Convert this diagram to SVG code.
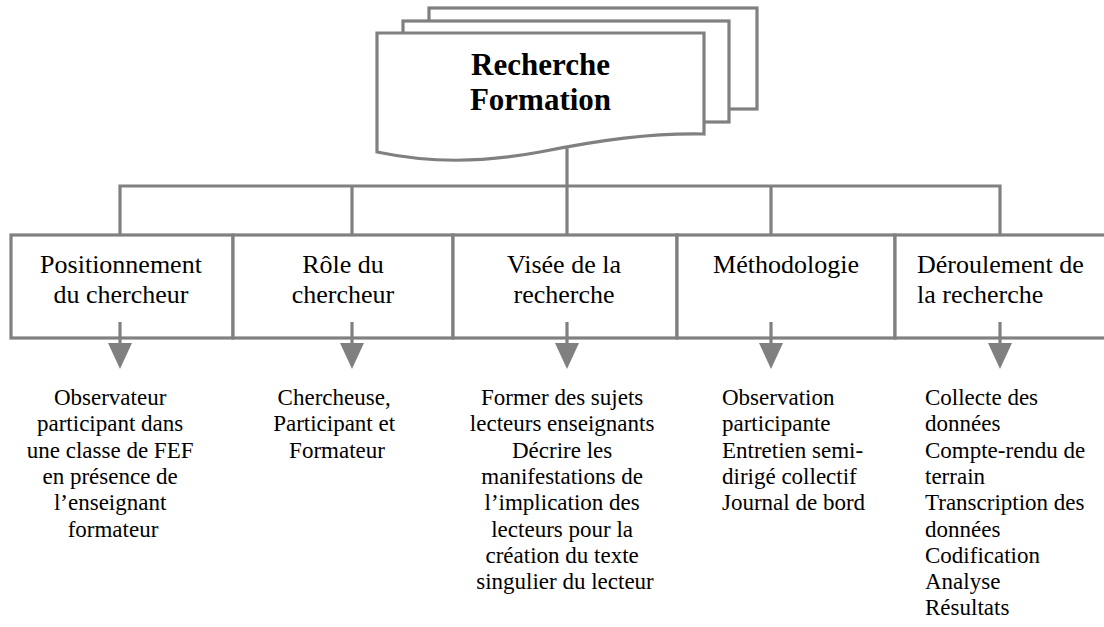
<svg xmlns="http://www.w3.org/2000/svg" width="1104" height="627" viewBox="0 0 1104 627">
<style>
.ln{fill:none;stroke:#808080;stroke-width:3.2;stroke-linejoin:miter}
.doc{fill:#ffffff;stroke:#808080;stroke-width:3.2}
.box{fill:#ffffff;stroke:#808080;stroke-width:3.2}
.ah{fill:#808080;stroke:none}
text{font-family:'Liberation Serif',Tinos,'Times New Roman',Times,'Noto Serif','DejaVu Serif',serif;fill:#000}
.title{font-weight:bold;font-size:31px}
.lbl{font-size:26px}
.txt{font-size:23px}
</style>
<rect width="1104" height="627" fill="#ffffff"/>
<g id="connectors">
<line class="ln" x1="567" y1="146" x2="567" y2="186"/>
<polyline class="ln" points="120,235 120,186 1000,186 1000,235"/>
<line class="ln" x1="352" y1="186" x2="352" y2="235"/>
<line class="ln" x1="567" y1="186" x2="567" y2="235"/>
<line class="ln" x1="771" y1="186" x2="771" y2="235"/>
</g>
<g id="title-doc">
<rect class="doc" x="429" y="8" width="328" height="101"/>
<rect class="doc" x="403" y="21" width="326" height="101"/>
<path class="doc" d="M377,33 L704,33 L704,134 C650,133 600,140 540,152 C480,163 430,163 377,152 Z"/>
<text class="title" x="540.5" y="75" text-anchor="middle" font-family="Liberation Serif, serif">Recherche</text>
<text class="title" x="540.5" y="110" text-anchor="middle" font-family="Liberation Serif, serif">Formation</text>
</g>
<g id="box-positionnement">
<rect class="box" x="11" y="235" width="222" height="103"/>
<text class="lbl" x="121" y="273" text-anchor="middle">Positionnement</text>
<text class="lbl" x="121" y="303" text-anchor="middle">du chercheur</text>
</g>
<g id="box-role">
<rect class="box" x="233" y="235" width="220" height="103"/>
<text class="lbl" x="343" y="273" text-anchor="middle">Rôle du</text>
<text class="lbl" x="343" y="303" text-anchor="middle">chercheur</text>
</g>
<g id="box-visee">
<rect class="box" x="453" y="235" width="224" height="103"/>
<text class="lbl" x="564" y="273" text-anchor="middle">Visée de la</text>
<text class="lbl" x="564" y="303" text-anchor="middle">recherche</text>
</g>
<g id="box-methodologie">
<rect class="box" x="677" y="235" width="218" height="103"/>
<text class="lbl" x="786" y="273" text-anchor="middle">Méthodologie</text>
</g>
<g id="box-deroulement">
<rect class="box" x="895" y="235" width="212" height="103"/>
<text class="lbl" x="917" y="273">Déroulement de</text>
<text class="lbl" x="917" y="303">la recherche</text>
</g>
<g id="arrows">
<line class="ln" x1="120" y1="322" x2="120" y2="346"/>
<polygon class="ah" points="108,343 132,343 120,369"/>
<line class="ln" x1="352" y1="322" x2="352" y2="346"/>
<polygon class="ah" points="340,343 364,343 352,369"/>
<line class="ln" x1="567" y1="322" x2="567" y2="346"/>
<polygon class="ah" points="555,343 579,343 567,369"/>
<line class="ln" x1="771" y1="322" x2="771" y2="346"/>
<polygon class="ah" points="759,343 783,343 771,369"/>
<line class="ln" x1="1000" y1="322" x2="1000" y2="346"/>
<polygon class="ah" points="988,343 1012,343 1000,369"/>
</g>
<g id="text-positionnement">
<text class="txt" text-anchor="middle">
<tspan x="113" y="405">Observateur</tspan>
<tspan x="113" y="431.3">participant dans</tspan>
<tspan x="113" y="457.6">une classe de FEF</tspan>
<tspan x="113" y="483.9">en présence de</tspan>
<tspan x="113" y="510.2">l’enseignant</tspan>
<tspan x="113" y="536.5">formateur</tspan>
</text>
</g>
<g id="text-role">
<text class="txt" text-anchor="middle">
<tspan x="337" y="405">Chercheuse,</tspan>
<tspan x="337" y="431.3">Participant et</tspan>
<tspan x="337" y="457.6">Formateur</tspan>
</text>
</g>
<g id="text-visee">
<text class="txt" text-anchor="middle">
<tspan x="565" y="405">Former des sujets</tspan>
<tspan x="565" y="431.3">lecteurs enseignants</tspan>
<tspan x="565" y="457.6">Décrire les</tspan>
<tspan x="565" y="483.9">manifestations de</tspan>
<tspan x="565" y="510.2">l’implication des</tspan>
<tspan x="565" y="536.5">lecteurs pour la</tspan>
<tspan x="565" y="562.8">création du texte</tspan>
<tspan x="565" y="589.1">singulier du lecteur</tspan>
</text>
</g>
<g id="text-methodologie">
<text class="txt">
<tspan x="722" y="405">Observation</tspan>
<tspan x="722" y="431.3">participante</tspan>
<tspan x="722" y="457.6">Entretien semi-</tspan>
<tspan x="722" y="483.9">dirigé collectif</tspan>
<tspan x="722" y="510.2">Journal de bord</tspan>
</text>
</g>
<g id="text-deroulement">
<text class="txt">
<tspan x="925" y="405">Collecte des</tspan>
<tspan x="925" y="431.3">données</tspan>
<tspan x="925" y="457.6">Compte-rendu de</tspan>
<tspan x="925" y="483.9">terrain</tspan>
<tspan x="925" y="510.2">Transcription des</tspan>
<tspan x="925" y="536.5">données</tspan>
<tspan x="925" y="562.8">Codification</tspan>
<tspan x="925" y="589.1">Analyse</tspan>
<tspan x="925" y="615.4">Résultats</tspan>
</text>
</g>
</svg>
